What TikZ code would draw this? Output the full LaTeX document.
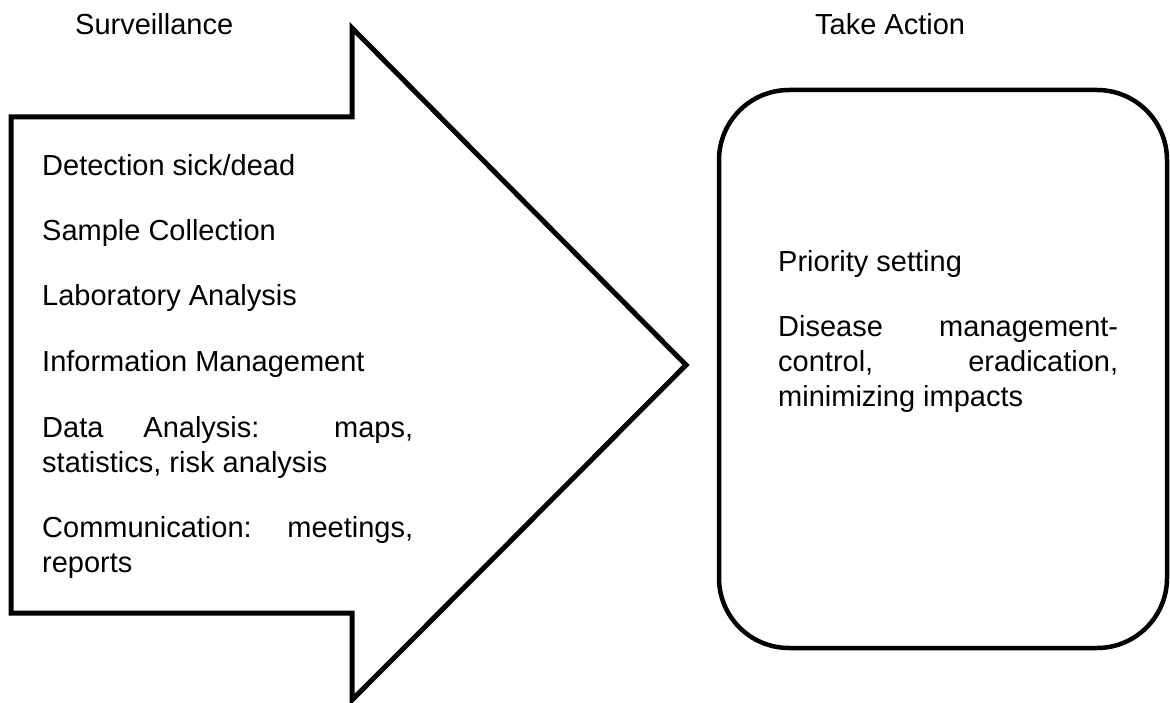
\documentclass[tikz,border=0pt]{standalone}
\usepackage{fontspec}
\setmainfont{Liberation Sans}
\begin{document}
\begin{tikzpicture}[x=1pt,y=-1pt,
    every node/.style={inner sep=0pt,font=\fontsize{29}{35}\selectfont},
    leftitem/.style={anchor=base west,text width=371pt,align=justify},
    rightitem/.style={anchor=base west,text width=340pt,align=justify}]

        \useasboundingbox (0,0) rectangle (1170,703);

        % Titles
        \node[anchor=base west] (survtitle) at (75,35) {Surveillance};
        \node[anchor=base west] (acttitle) at (815,35) {Take Action};

        % Surveillance arrow
        \draw[line width=5pt] (11,117) -- (352,117) -- (352,28) -- (686,365)
            -- (352,700) -- (352,613) -- (11,613) -- cycle;

        \node[leftitem] (detect) at (42,176) {Detection sick/dead};
        \node[leftitem] (sample) at (42,241) {Sample Collection};
        \node[leftitem] (lab) at (42,306) {Laboratory Analysis};
        \node[leftitem] (info) at (42,371) {Information Management};
        \node[leftitem] (data) at (42,437) {Data Analysis: maps,\linebreak statistics, risk analysis};
        \node[leftitem] (comm) at (42,537) {Communication: meetings,\linebreak reports};

        % Action box
        \draw[line width=4.5pt,rounded corners=70pt] (719,90) rectangle (1167,648);

        \node[rightitem] (priority) at (778,272) {Priority setting};
        \node[rightitem] (disease) at (778,337) {Disease management-\linebreak control, eradication,\linebreak minimizing impacts};

\end{tikzpicture}
\end{document}
